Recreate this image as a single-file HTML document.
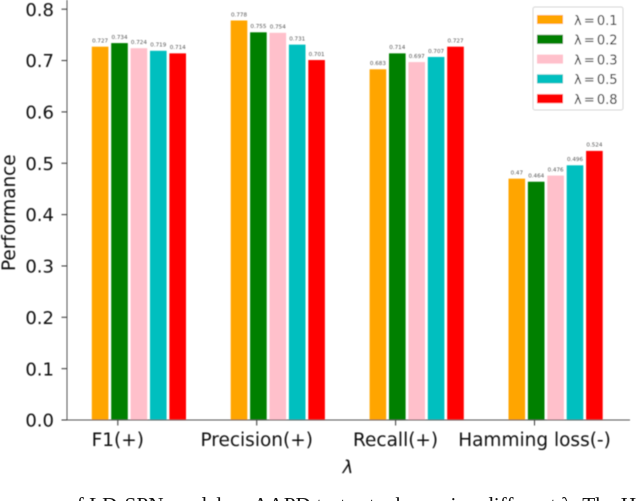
<!DOCTYPE html>
<html>
<head>
<meta charset="utf-8">
<title>Performance by lambda</title>
<style>
html,body{margin:0;padding:0;background:#fff;width:640px;height:501px;overflow:hidden}
svg{display:block;position:absolute;left:0;top:0}
text{font-family:"DejaVu Sans","Liberation Sans",sans-serif;fill:#111}
.cap{font-family:"Liberation Serif",serif;fill:#111}
.val{fill:#555;font-size:5.6px;text-anchor:middle}
.ytick{font-size:18px;text-anchor:end}
.xtick{font-size:18.5px;text-anchor:middle}
</style>
</head>
<body>
<svg id="chart" width="640" height="501" viewBox="0 0 640 501" xmlns="http://www.w3.org/2000/svg">
  <defs><filter id="soft" x="-5%" y="-5%" width="110%" height="110%"><feGaussianBlur stdDeviation="0.4"/></filter></defs>
  <g id="plot" filter="url(#soft)"></g>
  <text class="cap" x="66" y="512" font-size="21.3" xml:space="preserve">of LD-SPN model on AAPD test set when using different λ. The H</text>
</svg>
<script>
const categories = ["F1(+)", "Precision(+)", "Recall(+)", "Hamming loss(-)"];
const seriesNames = ["λ = 0.1", "λ = 0.2", "λ = 0.3", "λ = 0.5", "λ = 0.8"];
const seriesColors = ["#ffa500", "#008000", "#ffc0cb", "#00bfbf", "#ff0000"];
const lambda01 = [0.727, 0.778, 0.683, 0.47];
const lambda02 = [0.734, 0.755, 0.714, 0.464];
const lambda03 = [0.724, 0.754, 0.697, 0.476];
const lambda05 = [0.719, 0.731, 0.707, 0.496];
const lambda08 = [0.714, 0.701, 0.727, 0.524];
const valueLabels01 = ["0.727", "0.778", "0.683", "0.47"];
const valueLabels02 = ["0.734", "0.755", "0.714", "0.464"];
const valueLabels03 = ["0.724", "0.754", "0.697", "0.476"];
const valueLabels05 = ["0.719", "0.731", "0.707", "0.496"];
const valueLabels08 = ["0.714", "0.701", "0.727", "0.524"];
const yTicks = [0, 0.1, 0.2, 0.3, 0.4, 0.5, 0.6, 0.7, 0.8];
const yTickLabels = ["0.0", "0.1", "0.2", "0.3", "0.4", "0.5", "0.6", "0.7", "0.8"];

const series = [lambda01, lambda02, lambda03, lambda05, lambda08];
const seriesLabels = [valueLabels01, valueLabels02, valueLabels03, valueLabels05, valueLabels08];

const NS = "http://www.w3.org/2000/svg";
const plot = document.getElementById("plot");
const axisColor = "#555";

function yScale(v) { return 420 - v * 513.5; }
function xScale(i) { return 117.8 + i * 138.9; }
function barCenter(c, s) { return xScale(c) - 17.7 + s * 19.4; }

function make(tag, attrs, parent) {
  const el = document.createElementNS(NS, tag);
  for (const k in attrs) el.setAttribute(k, attrs[k]);
  (parent || plot).appendChild(el);
  return el;
}

series.forEach(function (vals, s) {
  vals.forEach(function (v, c) {
    const bar = make("rect", { x: barCenter(c, s) - 8.3, y: yScale(v), width: 16.6, height: yScale(0) - yScale(v), fill: seriesColors[s] });
    
    
    const label = make("text", { x: barCenter(c, s), y: yScale(v) - 4.2, class: "val" });
    
    
    label.textContent = seriesLabels[s][c];
  });
});

const leftSpine = make("line", { x1: 67, y1: 0, x2: 67, y2: 420.5, stroke: axisColor, "stroke-width": 1 });


const bottomSpine = make("line", { x1: 66.5, y1: 420, x2: 630, y2: 420, stroke: axisColor, "stroke-width": 1 });



yTicks.forEach(function (t, i) {
  const y = yScale(t);
  const mark = make("line", { x1: 61.5, y1: y, x2: 67, y2: y, stroke: "#333", "stroke-width": 1 });
  
  
  const label = make("text", { x: 54, y: y + 6.6, class: "ytick" });
  
  
  label.textContent = yTickLabels[i];
});

categories.forEach(function (name, c) {
  const x = xScale(c);
  const mark = make("line", { x1: x, y1: 420, x2: x, y2: 425.5, stroke: "#333", "stroke-width": 1 });
  
  
  const label = make("text", { x: x, y: 446, class: "xtick" });
  
  
  label.textContent = name;
});

const yTitle = make("text", { transform: "translate(15,271) rotate(-90)", "font-size": "18.4", "text-anchor": "start" });


yTitle.textContent = "Performance";

const xTitle = make("text", { x: 348, y: 473, "font-size": "18", "font-style": "italic", "text-anchor": "middle" });


xTitle.textContent = "λ";

const legend = make("g", {});


const legendBox = make("rect", { x: 533, y: 7, width: 90, height: 103, rx: 2, fill: "#fff", stroke: "#d4d4d4", "stroke-width": 1 }, legend);


seriesNames.forEach(function (name, s) {
  const y = 15 + s * 19.8;
  const swatch = make("rect", { x: 537, y: y, width: 26, height: 9, fill: seriesColors[s] }, legend);
  
  
  const text = make("text", { x: 574, y: y + 9.8, "font-size": "13", "word-spacing": "-2" }, legend);
  
  
  text.textContent = name;
});
</script>
</body>
</html>
